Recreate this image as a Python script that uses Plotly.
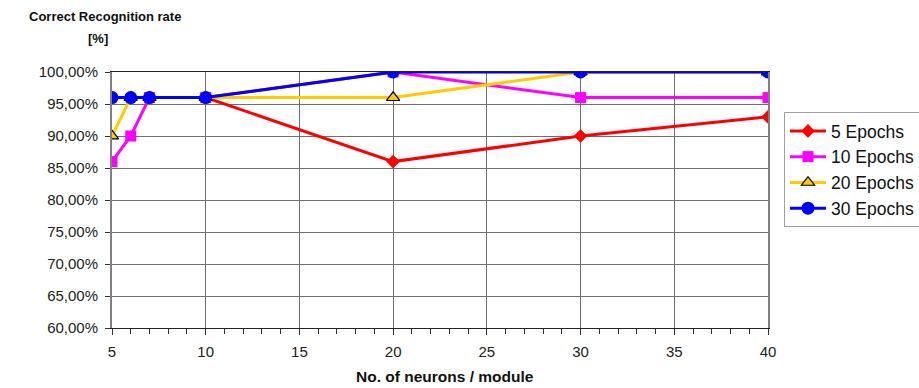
import plotly.graph_objects as go

neurons = [5, 6, 7, 10, 20, 30, 40]
epochs5 = [0.96, 0.96, 0.96, 0.96, 0.86, 0.90, 0.93]
epochs10 = [0.86, 0.90, 0.96, 0.96, 1.00, 0.96, 0.96]
epochs20 = [0.90, 0.96, 0.96, 0.96, 0.96, 1.00, 1.00]
epochs30 = [0.96, 0.96, 0.96, 0.96, 1.00, 1.00, 1.00]
series_names = ["5 Epochs", "10 Epochs", "20 Epochs", "30 Epochs"]

FONT = "Liberation Sans, Arial, sans-serif"
W, H = 919, 388
ML, MR, MT, MB = 112, 151, 72, 60
PW, PH = W - ML - MR, H - MT - MB


def px_x(p):
    return (p - ML) / PW


def px_y(p):
    return (H - MB - p) / PH


fig = go.Figure()
styles = [
    (epochs5, "#FF0000", "diamond", 10.5, dict(width=0)),
    (epochs10, "#FF00FF", "square", 11, dict(width=0)),
    (epochs20, "#FFCC00", "triangle-up", 11.5, dict(width=1.2, color="#000000")),
    (epochs30, "#0000FF", "circle", 13, dict(width=0)),
]
for name, (vals, col, sym, sz, mline) in zip(series_names, styles):
    fig.add_trace(go.Scatter(
        x=neurons, y=vals, name=name, mode="lines+markers",
        line=dict(color=col, width=3),
        marker=dict(symbol=sym, size=sz, color=col, line=mline),
    ))

fig.update_layout(
    width=W, height=H,
    margin=dict(l=ML, r=MR, t=MT, b=MB, autoexpand=False),
    paper_bgcolor="white", plot_bgcolor="white",
    separators=",.",
    font=dict(family=FONT, size=15, color="#222222"),
    showlegend=True,
    legend=dict(
        x=px_x(784), y=px_y(112), xanchor="left", yanchor="top",
        bordercolor="#A0A0A0", borderwidth=1, bgcolor="white",
        font=dict(family=FONT, size=17.5, color="#111111"),
        tracegroupgap=0, itemwidth=36,
    ),
    xaxis=dict(
        range=[5, 40], tickvals=[5, 10, 15, 20, 25, 30, 35, 40],
        showgrid=True, gridcolor="#707070", gridwidth=1,
        showline=True, linecolor="#222222", linewidth=1, mirror=True,
        ticks="outside", ticklen=6, tickcolor="#333333",
        minor=dict(dtick=1, ticks="outside", ticklen=5, tickcolor="#333333", showgrid=False),
        tickfont=dict(size=15), zeroline=False, automargin=False,
        ticklabelstandoff=4,
    ),
    yaxis=dict(
        range=[0.60, 1.00], dtick=0.05, tickformat=".2%",
        showgrid=True, gridcolor="#707070", gridwidth=1,
        showline=True, linecolor="#808080", linewidth=2, mirror=True,
        ticks="outside", ticklen=5, tickcolor="#333333",
        tickfont=dict(size=15), zeroline=False, automargin=False,
        ticklabelstandoff=4,
    ),
    annotations=[
        dict(text="<b>Correct Recognition rate</b>", x=px_x(27), y=px_y(16),
             xref="paper", yref="paper", xanchor="left", yanchor="middle",
             showarrow=False, font=dict(size=13, color="#111111")),
        dict(text="<b>[%]</b>", x=px_x(98), y=px_y(38),
             xref="paper", yref="paper", xanchor="center", yanchor="middle",
             showarrow=False, font=dict(size=13, color="#111111")),
        dict(text="<b>No. of neurons / module</b>", x=px_x(445), y=px_y(376),
             xref="paper", yref="paper", xanchor="center", yanchor="middle",
             showarrow=False, font=dict(size=15.5, color="#111111")),
    ],
)

fig.write_html(
    "out.html",
    config={"displayModeBar": False},
    post_script="document.body.style.margin='0';document.body.style.overflow='hidden';",
)
